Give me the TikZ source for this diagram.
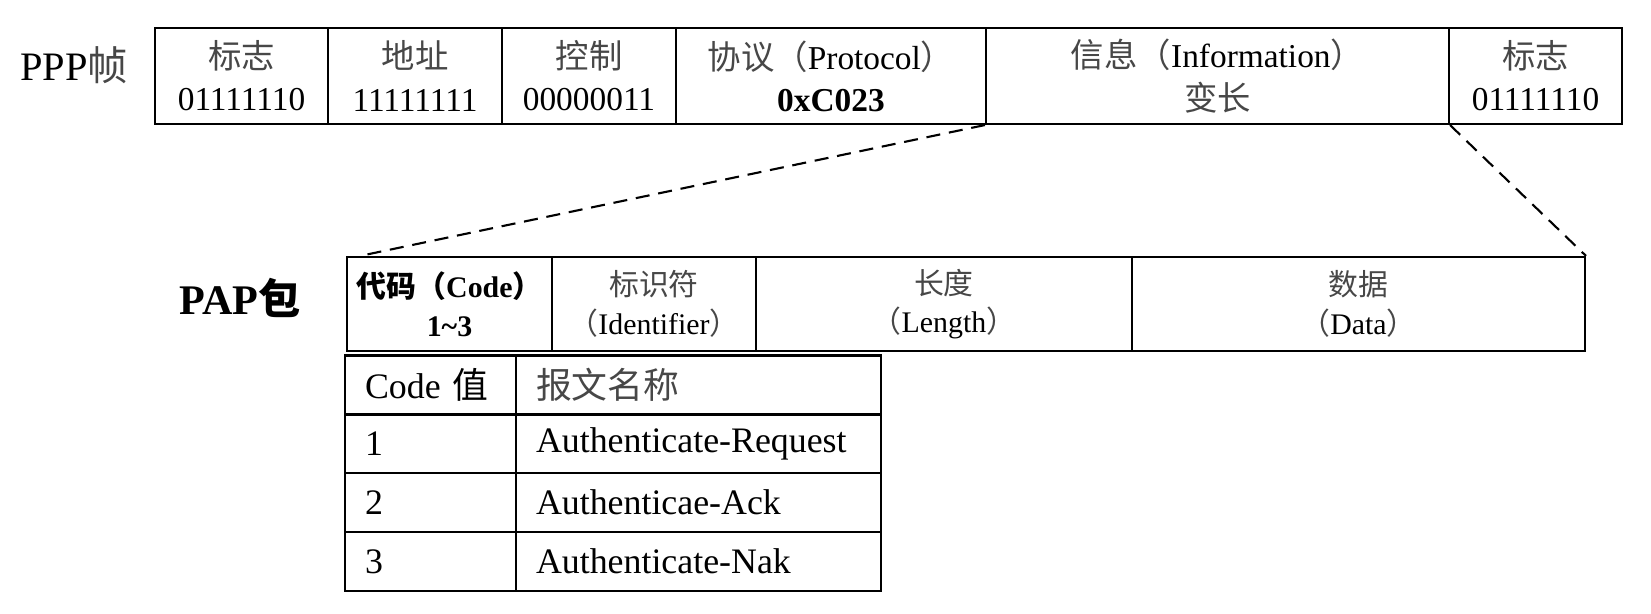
\documentclass[tikz,border=0pt]{standalone}
\usepackage{fontspec}
\setmainfont{Liberation Serif}
\newfontfamily\cjk{Noto Sans CJK SC}
\newcommand{\zh}[1]{{\cjk\color{black!72}#1}}
\newcommand{\zhb}[1]{{\cjk #1}}
\usetikzlibrary{positioning}

\begin{document}
\begin{tikzpicture}[x=0.1mm, y=-0.1mm,
    field/.style={draw, line width=0.6pt, minimum height=9.6mm, inner sep=0pt,
                  align=center, font=\fontsize{9.5}{12}\selectfont},
    papfield/.style={draw, line width=0.6pt, minimum height=9.4mm, inner sep=0pt,
                  align=center, font=\fontsize{8.5}{11}\selectfont},
    tcell/.style={draw, line width=0.6pt, minimum height=5.9mm, inner xsep=2mm,
                  inner ysep=0pt, align=left, font=\fontsize{10.2}{12}\selectfont},
    zoomline/.style={line width=0.6pt, dash pattern=on 4pt off 2.5pt},
  ]
  \useasboundingbox (0,0) rectangle (1651,614);

  % PPP frame
  \node[font=\fontsize{11.5}{13}\selectfont] (ppp) at (74,65) {PPP\zh{帧}};
  \node[field, minimum width=17.3mm] (flag1) at (241.5,76)  {\zh{标志}\\01111110};
  \node[field, minimum width=17.4mm] (addr)  at (415,76)    {\zh{地址}\\11111111};
  \node[field, minimum width=17.4mm] (ctrl)  at (589,76)    {\zh{控制}\\00000011};
  \node[field, minimum width=31mm]   (proto) at (831,76)    {\zh{协议（}Protocol\zh{）}\\\textbf{0xC023}};
  \node[field, minimum width=46.3mm] (info)  at (1217.5,76) {\zh{信息（}Information\zh{）}\\\zh{变长}};
  \node[field, minimum width=17.3mm] (flag2) at (1535.5,76) {\zh{标志}\\01111110};

  % PAP packet
  \node[font=\fontsize{12}{14}\selectfont\bfseries] (pap) at (240,298) {PAP\zhb{包}};
  \node[papfield, minimum width=20.5mm] (code)  at (449.5,304) {\textbf{\zhb{代码（}Code\zhb{）}}\\\textbf{1\textasciitilde3}};
  \node[papfield, minimum width=20.4mm] (ident) at (654,304)   {\zh{标识符}\\\zh{（}Identifier\zh{）}};
  \node[papfield, minimum width=37.6mm] (len)   at (944,304)   {\zh{长度}\\\zh{（}Length\zh{）}};
  \node[papfield, minimum width=45.3mm] (data)  at (1358.5,304) {\zh{数据}\\\zh{（}Data\zh{）}};

  \draw[zoomline] (info.south west) -- ([xshift=1.4mm]code.north west);
  \draw[zoomline] (info.south east) -- (data.north east);

  % code table
  \node[tcell, text width=13.1mm] (hcode) at (430.5,385)   {Code \zhb{值}};
  \node[tcell, text width=32.5mm] (hname) at (698.5,385)   {\zh{报文名称}};
  \node[tcell, text width=13.1mm] (c1)    at (430.5,443.5) {1};
  \node[tcell, text width=32.5mm] (n1)    at (698.5,443.5) {Authenticate-Request};
  \node[tcell, text width=13.1mm] (c2)    at (430.5,502.5) {2};
  \node[tcell, text width=32.5mm] (n2)    at (698.5,502.5) {Authenticae-Ack};
  \node[tcell, text width=13.1mm] (c3)    at (430.5,561.5) {3};
  \node[tcell, text width=32.5mm] (n3)    at (698.5,561.5) {Authenticate-Nak};
\end{tikzpicture}
\end{document}
